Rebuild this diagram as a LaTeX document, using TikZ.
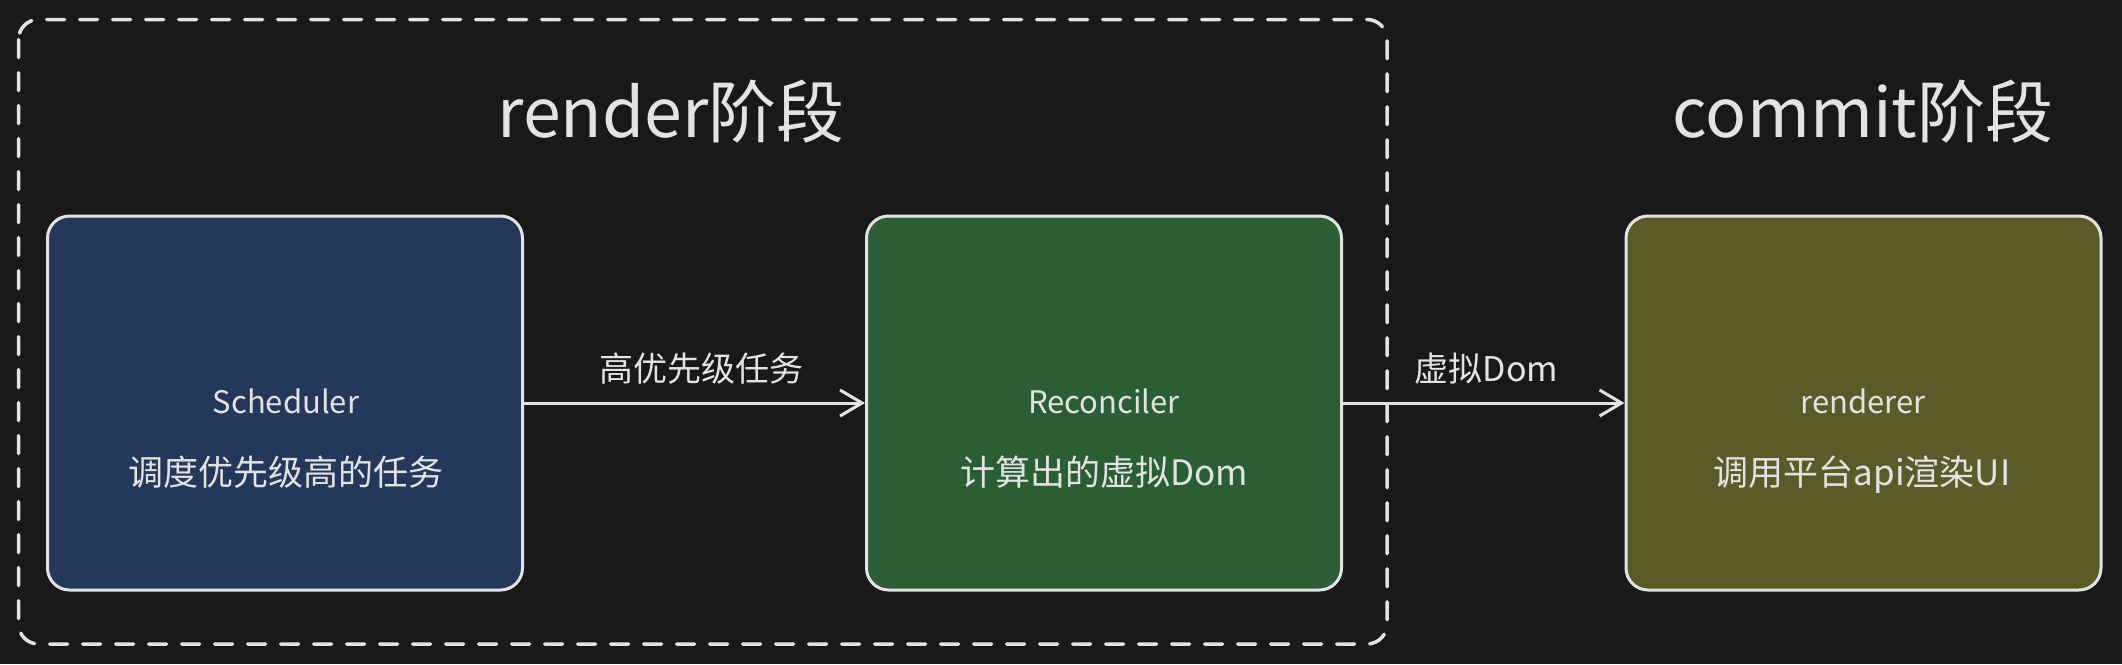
\documentclass[tikz,border=0pt]{standalone}
\usepackage{fontspec}
\setmainfont{Noto Sans CJK SC}
\usetikzlibrary{arrows.meta}
\definecolor{bg}{HTML}{191919}
\definecolor{ink}{HTML}{E3E3E3}
\definecolor{bluefill}{HTML}{23385A}
\definecolor{greenfill}{HTML}{2B5E35}
\definecolor{olivefill}{HTML}{5A5B28}
\tikzset{
  stagebox/.style={draw=ink, line width=3pt, rounded corners=22pt,
    minimum width=475pt, minimum height=374pt, inner sep=0pt},
  titletext/.style={text=ink, anchor=base, inner sep=0pt,
    font=\fontsize{68pt}{74pt}\selectfont},
  nametext/.style={text=ink, anchor=base, inner sep=0pt,
    font=\fontsize{31pt}{36pt}\selectfont},
  desctext/.style={text=ink, anchor=base, inner sep=0pt,
    font=\fontsize{35pt}{40pt}\selectfont},
  flowarrow/.style={draw=ink, line width=3pt,
    -{Straight Barb[length=22pt, width=26pt, line width=3pt]}},
  arrowlabel/.style={text=ink, anchor=base, inner sep=0pt, yshift=22pt,
    font=\fontsize{34pt}{40pt}\selectfont},
  groupframe/.style={draw=ink, line width=3.5pt, rounded corners=20pt,
    dash pattern=on 18pt off 15pt, line cap=round}
}
\begin{document}
\begin{tikzpicture}[x=1pt, y=-1pt]
  \fill[bg] (0,0) rectangle (2122,664);
  \useasboundingbox (0,0) rectangle (2122,664);

  % render stage frame
  \draw[groupframe] (18.5,19.5) rectangle (1387,644);

  % titles
  \node[titletext] (t1) at (671,137) {render阶段};
  \node[titletext] (t2) at (1863,137) {commit阶段};

  % boxes
  \node[stagebox, fill=bluefill] (b1) at (285,403) {};
  \node[stagebox, fill=greenfill] (b2) at (1104,403) {};
  \node[stagebox, fill=olivefill] (b3) at (1863.5,403) {};

  % box texts
  \node[nametext] (n1) at (286,413) {Scheduler};
  \node[desctext] (d1) at (286,485) {调度优先级高的任务};
  \node[nametext] (n2) at (1104,413) {Reconciler};
  \node[desctext] (d2) at (1104,485) {计算出的虚拟Dom};
  \node[nametext] (n3) at (1863,413) {renderer};
  \node[desctext] (d3) at (1862,485) {调用平台api渲染UI};

  % connectors
  \draw[flowarrow] (b1.east) -- node[arrowlabel, pos=0.52] (l1) {高优先级任务} (b2.west);
  \draw[flowarrow] (b2.east) -- node[arrowlabel, pos=0.51] (l2) {虚拟Dom} (b3.west);
\end{tikzpicture}
\end{document}
